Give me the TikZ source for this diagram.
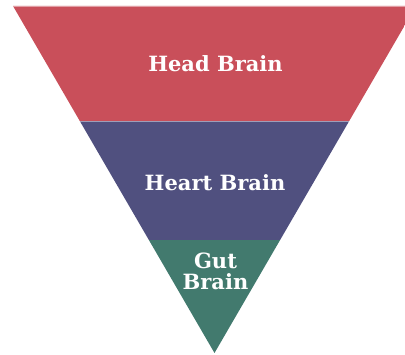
\documentclass[tikz,border=0pt]{standalone}
\usepackage{fontspec}
\setmainfont{DejaVu Serif}
\definecolor{headred}{HTML}{C94F5A}
\definecolor{heartblue}{HTML}{50507F}
\definecolor{gutgreen}{HTML}{427A6E}
\begin{document}
\begin{tikzpicture}[x=1pt,y=1pt,
  label/.style={text=white,font=\bfseries\fontsize{21}{21}\selectfont,align=center,inner sep=0pt},
  divider/.style={draw=white,draw opacity=0.45,line width=0.8pt}]
\useasboundingbox (0,0) rectangle (405,355);
% inverted triangle, cut by the right border
\coordinate (tl) at (13,349);
\coordinate (tr) at (416,349);
\coordinate (apex) at (214.5,2);
\begin{scope}
  \clip (0,0) rectangle (405,355);
  \clip (tl) -- (tr) -- (apex) -- cycle;
  \fill[headred] (0,234) rectangle (420,355);
  \fill[heartblue] (0,115) rectangle (420,234);
  \fill[gutgreen] (0,0) rectangle (420,115);
  \draw[divider] (0,234) -- (420,234);
  \draw[divider] (tl) -- (tr);
\end{scope}
\node[label] (head) at (215.5,291) {Head Brain};
\node[label] (heart) at (215,172) {Heart Brain};
\node[label] (gut) at (215.5,84) {Gut\\Brain};
\end{tikzpicture}
\end{document}
